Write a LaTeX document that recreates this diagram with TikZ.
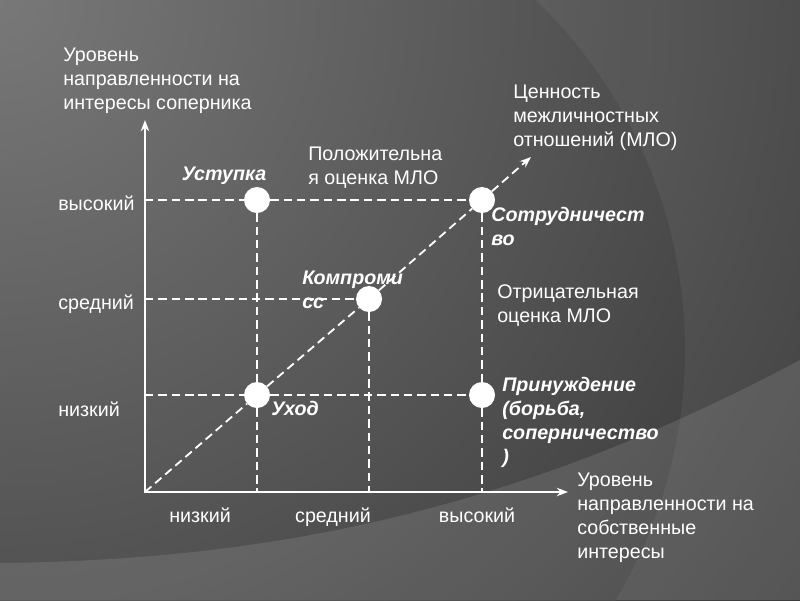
\documentclass[tikz,border=0pt]{standalone}
\usepackage{fontspec}
\setmainfont{Liberation Sans}
\usetikzlibrary{arrows.meta, positioning}
\definecolor{bgdark}{HTML}{2A2A2A}
\definecolor{bglight}{HTML}{787878}

\begin{document}
\begin{tikzpicture}[
  x=0.025cm, y=-0.025cm,
  lbl/.style={text=white, font=\fontsize{14}{17}\selectfont, align=left, inner sep=0pt},
  strat/.style={lbl, font=\fontsize{14}{17}\selectfont\bfseries\itshape},
  axis/.style={white, line width=1.5pt, line join=miter},
  grid/.style={white, line width=1.3pt, dash pattern=on 6pt off 3.5pt},
  spot/.style={circle, fill=white, minimum size=0.65cm, inner sep=0pt}
]
  % background
  \begin{scope}
    \clip (0,0) rectangle (800,600);
    \shade[inner color=bglight, outer color=bgdark] (0,0) circle (1200);
    \fill[white, opacity=0.05, even odd rule] (0,0) rectangle (800,600) (200,350) circle (485);
    \fill[white, opacity=0.11] (0,563) .. controls (250,560) and (500,520) .. (800,360)
      -- (800,600) -- (0,600) -- cycle;
  \end{scope}
  \useasboundingbox (0,0) rectangle (800,600);

  % axes
  \coordinate (o) at (145,492);
  \coordinate (ytop) at (145,120);
  \coordinate (xend) at (568,492);
  \coordinate (mlo) at (531,157);
  \coordinate (yh) at (145,200);
  \coordinate (ym) at (145,299);
  \coordinate (yl) at (145,395);
  \coordinate (xl) at (257,492);
  \coordinate (xm) at (369,492);
  \coordinate (xh) at (482,492);

  % strategies
  \node[spot] (yield) at (257,200) {};
  \node[spot] (coop) at (482,200) {};
  \node[spot] (comp) at (369,299) {};
  \node[spot] (avoid) at (257,395) {};
  \node[spot] (force) at (482,395) {};

  \draw[grid] (yh) -- (yield) -- (coop);
  \draw[grid] (ym) -- (comp);
  \draw[grid] (yl) -- (avoid) -- (force);
  \draw[grid] (yield) -- (avoid) -- (xl);
  \draw[grid] (comp) -- (xm);
  \draw[grid] (coop) -- (force) -- (xh);
  \draw[grid, -{Stealth[length=8pt,width=6pt]}] (o) -- (avoid) -- (comp) -- (coop) -- (mlo);
  \draw[axis, {Stealth[length=8pt,width=6pt]}-{Stealth[length=8pt,width=6pt]}] (ytop) -- (o) -- (xend);

  % labels (base = last line)
  \node[lbl, anchor=base west] (ytitle) at (63,109) {Уровень\\направленности на\\интересы соперника};
  \node[lbl, anchor=base west] (yhi) at (58,210) {высокий};
  \node[lbl, anchor=base west] (ymid) at (58,309) {средний};
  \node[lbl, anchor=base west] (ylo) at (58,416) {низкий};
  \node[lbl, anchor=base] (xlo) at (200,522) {низкий};
  \node[lbl, anchor=base] (xmid) at (333,522) {средний};
  \node[lbl, anchor=base] (xhi) at (477,522) {высокий};
  \node[lbl, anchor=base west] (xtitle) at (577,558) {Уровень\\направленности на\\собственные\\интересы};
  \node[lbl, anchor=base west] (mlolbl) at (513,146) {Ценность\\межличностных\\отношений (МЛО)};
  \node[lbl, anchor=base west] (poslbl) at (308,184) {Положительна\\я оценка МЛО};
  \node[lbl, anchor=base west] (neglbl) at (497,322) {Отрицательная\\оценка МЛО};
  \node[strat, anchor=base] (yieldlbl) at (224,180) {Уступка};
  \node[strat, anchor=base west] (cooplbl) at (491,245) {Сотрудничест\\во};
  \node[strat, anchor=base west] (complbl) at (302,308) {Компроми\\сс};
  \node[strat, anchor=base west] (avoidlbl) at (271,415) {Уход};
  \node[strat, anchor=base west] (forcelbl) at (502,463) {Принуждение\\(борьба,\\соперничество\\)};
\end{tikzpicture}
\end{document}
